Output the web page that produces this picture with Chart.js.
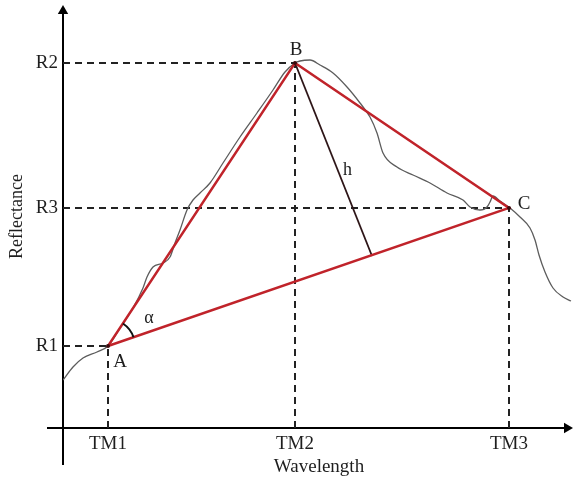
<!DOCTYPE html>
<html>
<head>
<meta charset="utf-8">
<title>Reflectance triangle</title>
<script src="https://cdn.jsdelivr.net/npm/chart.js@4"></script>
<style>
  html, body { margin: 0; padding: 0; background: #fff; }
  #wrap { width: 575px; height: 479px; position: relative; }
</style>
</head>
<body>
<div id="wrap"><canvas id="spectrum"></canvas></div>
<script>
// band positions on the wavelength axis and their labels
const tmLabels = ['TM1', 'TM2', 'TM3'];
const tmValues = [45, 232, 446];

// reflectance levels at those bands
const rLabels = ['R1', 'R2', 'R3'];
const rValues = [82, 365, 220];

// triangle vertex names (A = TM1/R1, B = TM2/R2, C = TM3/R3)
const vertexNames = ['A', 'B', 'C'];

// foot of the height h on side AC
const hFoot = [309, 172];

// spectral reflectance curve
const curveX = [0, 10, 20, 34, 45, 57, 70, 80, 84, 90, 100, 107, 112, 117, 124, 130, 137, 147, 160, 177,
  194, 210, 222, 232, 237, 247, 257, 270, 284, 297, 307, 314, 320, 334, 350, 367, 384, 400, 407, 417,
  424, 427, 430, 437, 447, 457, 467, 472, 476, 482, 490, 500, 508];
const curveY = [48, 61, 70, 76, 82, 100, 120, 140, 151, 161, 165, 171, 185, 198, 218, 228, 235, 245, 265, 291,
  315, 338, 356, 365, 367, 368, 363, 355, 341, 325, 311, 295, 275, 261, 253, 245, 235, 228, 221, 218,
  221, 226, 232, 227, 220, 211, 200, 188, 173, 156, 140, 131, 127];

const serif = '"Liberation Serif", "DejaVu Serif", serif';
const ink = '#1e1e1e';
const red = '#c0232a';

const vertices = tmValues.map((x, i) => ({ x: x, y: rValues[i] }));

// datasets: index 0 is drawn on top
const datasets = [];

datasets.push({
  label: 'triangle',
  data: [vertices[0], vertices[1], vertices[2], vertices[0]],
  borderColor: red,
  borderWidth: 2.4,
  pointRadius: [2, 2, 2, 0],
  pointBackgroundColor: '#3a0b0d',
  pointBorderWidth: 0,
  tension: 0
});

datasets.push({
  label: 'h',
  data: [vertices[1], { x: hFoot[0], y: hFoot[1] }],
  borderColor: '#2d1517',
  borderWidth: 1.8,
  pointRadius: 0,
  tension: 0
});

datasets.push({
  label: 'curve',
  data: curveX.map((x, i) => ({ x: x, y: curveY[i] })),
  borderColor: '#5c5c5c',
  borderWidth: 1.3,
  pointRadius: 0,
  cubicInterpolationMode: 'monotone'
});

// dashed guides from each vertex to both axes
tmValues.forEach((x, i) => {
  const y = rValues[i];
  [[{ x: 0, y: y }, { x: x, y: y }], [{ x: x, y: 0 }, { x: x, y: y }]].forEach(seg => {
    datasets.push({
      label: 'guide',
      data: seg,
      borderColor: '#222',
      borderWidth: 2,
      borderDash: [7, 5],
      pointRadius: 0,
      tension: 0
    });
  });
});

// axis lines with arrow heads, running past the plot area
datasets.push({
  label: 'yAxisLine',
  data: [{ x: 0, y: -37 }, { x: 0, y: 417 }],
  borderColor: '#000',
  borderWidth: 2,
  pointRadius: [0, 6],
  pointStyle: 'triangle',
  pointRotation: 0,
  pointBackgroundColor: '#000',
  pointBorderColor: '#000',
  pointBorderWidth: 0,
  clip: false
});
datasets.push({
  label: 'xAxisLine',
  data: [{ x: -16, y: 0 }, { x: 504, y: 0 }],
  borderColor: '#000',
  borderWidth: 2,
  pointRadius: [0, 6],
  pointStyle: 'triangle',
  pointRotation: 90,
  pointBackgroundColor: '#000',
  pointBorderColor: '#000',
  pointBorderWidth: 0,
  clip: false
});

// vertex letters, the h label and the angle alpha at A
const annotations = {
  id: 'annotations',
  afterDatasetsDraw(chart) {
    const { ctx, scales: { x, y } } = chart;
    const px = vertices.map(v => [x.getPixelForValue(v.x), y.getPixelForValue(v.y)]);
    const offsets = [[12, 16], [1, -13], [15, -4]];
    ctx.save();
    ctx.fillStyle = ink;
    ctx.textAlign = 'center';
    ctx.textBaseline = 'middle';
    ctx.font = '19px ' + serif;
    vertexNames.forEach((name, i) => {
      ctx.fillText(name, px[i][0] + offsets[i][0], px[i][1] + offsets[i][1]);
    });

    const fx = x.getPixelForValue(hFoot[0]);
    const fy = y.getPixelForValue(hFoot[1]);
    ctx.font = '18px ' + serif;
    ctx.fillText('h', (px[1][0] + fx) / 2 + 14, (px[1][1] + fy) / 2 + 11);

    // angle between AB and AC
    const [ax, ay] = px[0];
    const aB = Math.atan2(px[1][1] - ay, px[1][0] - ax);
    const aC = Math.atan2(px[2][1] - ay, px[2][0] - ax);
    ctx.beginPath();
    ctx.arc(ax, ay, 27, aB, aC);
    ctx.strokeStyle = '#111';
    ctx.lineWidth = 2;
    ctx.stroke();
    ctx.fillText('α', ax + 41, ay - 28);
    ctx.restore();
  }
};

// keep the plot area fixed: no extra room for half tick labels
function noEdgePadding(s) {
  s.paddingTop = 0;
  s.paddingBottom = 0;
  s.paddingLeft = 0;
  s.paddingRight = 0;
}

const chart = new Chart(document.getElementById('spectrum').getContext('2d'), {
  type: 'line',
  data: { datasets: datasets },
  options: {
    responsive: true,
    maintainAspectRatio: false,
    animation: false,
    devicePixelRatio: 1,
    layout: { autoPadding: false, padding: { top: 5, right: 0, left: 0, bottom: 0 } },
    plugins: {
      legend: { display: false },
      tooltip: { enabled: false }
    },
    scales: {
      x: {
        type: 'linear',
        min: 0,
        max: 512,
        afterBuildTicks: s => { s.ticks = tmValues.map(v => ({ value: v })); },
        afterFit: s => { s.height = 51; noEdgePadding(s); },
        grid: { display: false, drawTicks: false },
        border: { display: false },
        ticks: {
          autoSkip: false,
          maxRotation: 0,
          padding: 5,
          color: ink,
          font: { family: serif, size: 19 },
          callback: v => labelFor(tmLabels, tmValues, v)
        },
        title: {
          display: true,
          text: 'Wavelength',
          color: ink,
          font: { family: serif, size: 19 },
          padding: { top: 0, bottom: 1 }
        }
      },
      y: {
        type: 'linear',
        min: 0,
        max: 423,
        afterBuildTicks: s => { s.ticks = rValues.map(v => ({ value: v })); },
        afterFit: s => { s.width = 63; noEdgePadding(s); },
        grid: { display: false, drawTicks: false },
        border: { display: false },
        ticks: {
          autoSkip: false,
          padding: 5,
          color: ink,
          font: { family: serif, size: 19 },
          callback: v => labelFor(rLabels, rValues, v)
        },
        title: {
          display: true,
          text: 'Reflectance',
          color: ink,
          font: { family: serif, size: 18 },
          padding: { top: 6, bottom: 0 }
        }
      }
    }
  },
  plugins: [annotations]
});

function labelFor(labels, values, v) {
  const i = values.indexOf(v);
  return i < 0 ? '' : labels[i];
}
</script>
</body>
</html>
